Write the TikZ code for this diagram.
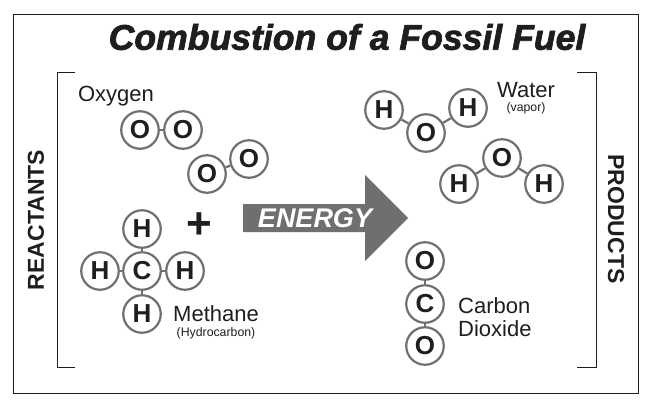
\documentclass[tikz,border=0pt]{standalone}
\usepackage{fontspec}
\setmainfont{Liberation Sans}
\newfontfamily\heavyfont[FakeBold=2,BoldFont={Liberation Sans Bold}]{Liberation Sans Bold}
\definecolor{ringgray}{HTML}{6F6F6F}
\definecolor{inkblack}{HTML}{1E1E1E}
\begin{document}
\begin{tikzpicture}[x=1pt,y=-1pt]
\tikzstyle{atom node}=[circle,draw=ringgray,line width=2.2pt,fill=white,minimum size=37.5pt,inner sep=0,text=inkblack,font=\fontsize{26}{26}\selectfont\bfseries]
\tikzstyle{bond line}=[draw=ringgray,line width=2.2pt]
\tikzstyle{small label}=[text=inkblack,inner sep=0,font=\fontsize{12.3}{12.3}\selectfont]
\tikzset{
	name label/.style={text=inkblack,inner sep=0,font=\fontsize{22}{23}\selectfont,align=left},
	side label/.style={text=inkblack,font=\fontsize{23}{23}\selectfont\bfseries},
	bracket line/.style={draw=inkblack,line width=0.8pt}
}
\useasboundingbox (0,0) rectangle (663,405);
\draw[inkblack,line width=0.8pt] (13.5,14.5) rectangle (638,393);
\node[text=inkblack,font=\heavyfont\fontsize{35.6}{36}\selectfont\itshape] (title) at (347,37) {Combustion of a Fossil Fuel};
% brackets
\draw[bracket line] (75,72) -- (57,72) -- (57,367) -- (75,367);
\draw[bracket line] (577,72) -- (596,72) -- (596,367) -- (577,367);
\node[side label,rotate=90] (reactants) at (36,220) {REACTANTS};
\node[side label,rotate=-90] (products) at (616,219) {PRODUCTS};
% oxygen
\node[name label] (oxygen) at (116,96) {Oxygen};
\node[atom node] (o1) at (140,130) {O};
\node[atom node] (o2) at (183,130) {O};
\node[atom node] (o3) at (207,174) {O};
\node[atom node] (o4) at (249,159) {O};
\draw[bond line] (o1) -- (o2);
\draw[bond line] (o3) -- (o4);
% methane
\node[atom node] (c1) at (142,271) {C};
\node[atom node] (h1) at (142,229) {H};
\node[atom node] (h2) at (100,271) {H};
\node[atom node] (h3) at (185,271) {H};
\node[atom node] (h4) at (142,314) {H};
\foreach \n in {h1,h2,h3,h4}
	\draw[bond line] (c1) -- (\n);
\node[text=inkblack,font=\fontsize{44}{44}\selectfont\bfseries] (plus) at (199,226) {+};
\node[name label] (methane) at (216,314) {Methane};
\node[small label] (hydrocarbon) at (216,333) {(Hydrocarbon)};
% arrow
\fill[ringgray] (243,204) -- (365,204) -- (365,175) -- (408,218) -- (365,261) -- (365,232) -- (243,232) -- cycle;
\node[white,font=\fontsize{27}{27}\selectfont\bfseries\itshape] (energy) at (315,218) {ENERGY};
% water
\node[atom node] (h5) at (384,110) {H};
\node[atom node] (o5) at (426,133) {O};
\node[atom node] (h6) at (468,108) {H};
\draw[bond line] (h5) -- (o5);
\draw[bond line] (o5) -- (h6);
\node[atom node] (o6) at (502,158) {O};
\node[atom node] (h7) at (459,184) {H};
\node[atom node] (h8) at (544,184) {H};
\draw[bond line] (o6) -- (h7);
\draw[bond line] (o6) -- (h8);
\node[name label] (water) at (526,90) {Water};
\node[small label] (vapor) at (526,108) {(vapor)};
% carbon dioxide
\node[atom node] (o7) at (425,261) {O};
\node[atom node] (c2) at (425,304) {C};
\node[atom node] (o8) at (425,346) {O};
\draw[bond line] (o7) -- (c2);
\draw[bond line] (c2) -- (o8);
\node[name label,anchor=west] (carbon) at (458,317) {Carbon\\Dioxide};
\end{tikzpicture}
\end{document}
